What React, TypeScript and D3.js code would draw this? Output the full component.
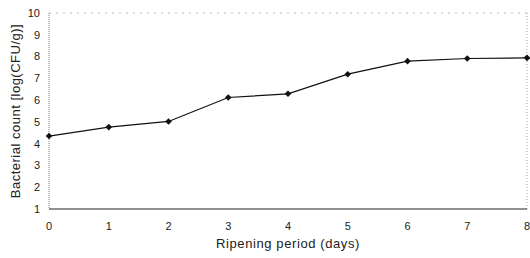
import * as d3 from 'd3'

const days = [0, 1, 2, 3, 4, 5, 6, 7, 8]
const counts = [4.35, 4.76, 5.02, 6.12, 6.29, 7.19, 7.79, 7.91, 7.94]
const yTicks = [1, 2, 3, 4, 5, 6, 7, 8, 9, 10]

const W = 530
const H = 258
const margin = { left: 49, right: 3, top: 13, bottom: 49 }

const font = '"Liberation Sans", Arial, sans-serif'

const App = () => {
    const x = d3.scaleLinear().domain([0, 8]).range([margin.left, W - margin.right])
    const y = d3.scaleLinear().domain([1, 10]).range([H - margin.bottom, margin.top])

    const line = d3.line<number>()
        .x((d, i) => x(days[i]))
        .y(d => y(d))

    // square rotated 45deg gives an even diamond like the scan
    const marker = d3.symbol().type(d3.symbolSquare).size(22)()

    return (
        <svg width={W} height={H} style={{ position: 'absolute', left: 0, top: 0, background: '#fff' }}>
            {/* frame: faint dotted on top/left/right, solid bottom */}
            <line x1={x(0)} x2={x(8)} y1={y(10)} y2={y(10)} stroke="#bbb" strokeWidth={1} strokeDasharray="2 5" />
            <line x1={x(8)} x2={x(8)} y1={y(10)} y2={y(1)} stroke="#aaa" strokeWidth={1} strokeDasharray="1 2" />
            <line x1={x(0)} x2={x(0)} y1={y(10)} y2={y(1)} stroke="#777" strokeWidth={1} strokeDasharray="1 1" />
            <line x1={x(0)} x2={x(8)} y1={y(1)} y2={y(1)} stroke="#222" strokeWidth={1.2} />

            {yTicks.map(t => (
                <text key={t} x={40} y={y(t)} dy="0.35em" textAnchor="end"
                    style={{ fontFamily: font, fontSize: '11px' }} fill="#222">{t}</text>
            ))}
            {days.map(d => (
                <text key={d} x={x(d)} y={y(1) + 17} dy="0.35em" textAnchor="middle"
                    style={{ fontFamily: font, fontSize: '11px' }} fill="#222">{d}</text>
            ))}

            <path d={line(counts) || ''} fill="none" stroke="#111" strokeWidth={1.2} />
            {counts.map((c, i) => (
                <path key={i} d={marker || ''} transform={`translate(${x(days[i])},${y(c)}) rotate(45)`} fill="#111" />
            ))}

            <text x={(x(0) + x(8)) / 2} y={248} textAnchor="middle"
                style={{ fontFamily: font, fontSize: '13px', letterSpacing: '0.6px' }} fill="#222">Ripening period (days)</text>
            <text transform={`translate(15,${(y(1) + y(10)) / 2}) rotate(-90)`} textAnchor="middle" dy="0.35em"
                style={{ fontFamily: font, fontSize: '13px', letterSpacing: '0.5px' }} fill="#222">Bacterial count [log(CFU/g)]</text>
        </svg>
    )
}

export default App
